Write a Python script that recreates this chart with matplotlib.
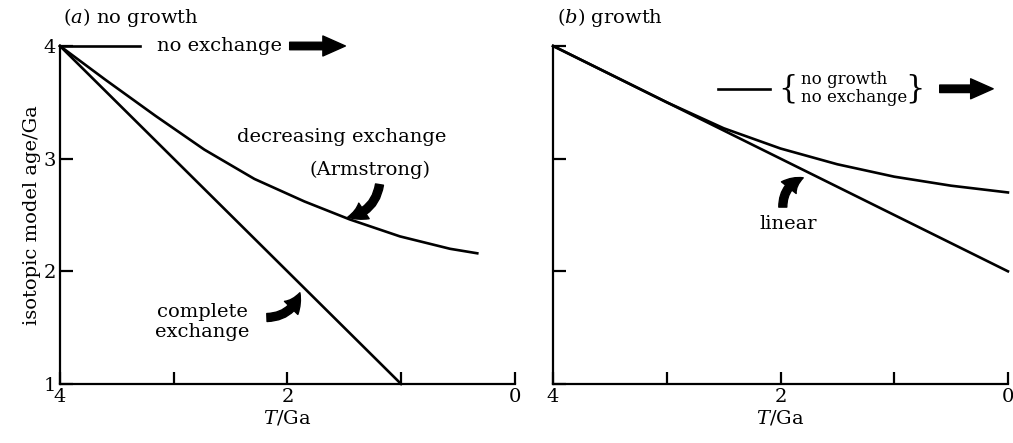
import numpy as np
import matplotlib
matplotlib.use('Agg')
import matplotlib.pyplot as plt

plt.rcParams['font.family'] = 'DejaVu Serif'
plt.rcParams['mathtext.fontset'] = 'dejavuserif'

# (a) no growth
complete_T = [4.0, 1.0]
complete_age = [4.0, 1.0]
armstrong_T = [4.0, 3.6, 3.16, 2.73, 2.29, 1.85, 1.45, 1.01, 0.57, 0.33]
armstrong_age = [4.0, 3.70, 3.38, 3.08, 2.82, 2.62, 2.46, 2.31, 2.20, 2.16]
noexch_T = [4.0, 3.3]
noexch_age = [4.0, 4.0]

# (b) growth
linear_T = [4.0, 0.0]
linear_age = [4.0, 2.0]
growth_T = [4.0, 3.5, 3.0, 2.5, 2.0, 1.5, 1.0, 0.5, 0.0]
growth_age = [4.0, 3.75, 3.50, 3.27, 3.09, 2.95, 2.84, 2.76, 2.70]
flat_T = [2.55, 2.09]
flat_age = [3.62, 3.62]

x_ticks = [4, 3, 2, 1, 0]
x_labels = ['4', '', '2', '', '0']
y_ticks = [1, 2, 3, 4]

LW = 1.9
FS = 14


def style_axes(ax, ylabels=True):
    ax.set_xlim(4, 0)
    ax.set_ylim(1, 4)
    for side in ('top', 'right'):
        ax.spines[side].set_visible(False)
    for side in ('left', 'bottom'):
        ax.spines[side].set_linewidth(1.6)
    ax.set_xticks(x_ticks)
    ax.set_xticklabels(x_labels, fontsize=FS)
    ax.set_yticks(y_ticks)
    if ylabels:
        ax.set_yticklabels([str(v) for v in y_ticks], fontsize=FS)
    else:
        ax.set_yticklabels([])
    ax.tick_params(direction='in', length=9, width=1.6, pad=3)
    ax.set_xlabel('$T$/Ga', fontsize=FS, labelpad=2)


def curved_arrow(ax, tail, head, rad):
    ax.annotate('', xy=head, xytext=tail,
                arrowprops=dict(arrowstyle='simple,head_length=0.7,head_width=0.75,tail_width=0.32',
                                connectionstyle='arc3,rad=%s' % rad,
                                color='black', shrinkA=0, shrinkB=0,
                                mutation_scale=18),
                annotation_clip=False)


def straight_arrow(ax, tail, head):
    ax.annotate('', xy=head, xytext=tail,
                arrowprops=dict(arrowstyle='simple,head_length=0.9,head_width=0.8,tail_width=0.3',
                                color='black', shrinkA=0, shrinkB=0,
                                mutation_scale=18),
                annotation_clip=False)


fig = plt.figure(figsize=(10.13, 4.43), dpi=100)
ax1 = fig.add_axes([0.0592, 0.1332, 0.449, 0.763])
ax2 = fig.add_axes([0.546, 0.1332, 0.449, 0.763])

# panel (a)
ax1.plot(complete_T, complete_age, color='black', lw=LW, clip_on=False)
ax1.plot(armstrong_T, armstrong_age, color='black', lw=LW, clip_on=False,
         solid_joinstyle='round')
ax1.plot(noexch_T, noexch_age, color='black', lw=LW, clip_on=False)
style_axes(ax1)
ax1.set_ylabel('isotopic model age/Ga', fontsize=FS, labelpad=2)
ax1.text(3.97, 4.255, '($a$) no growth', fontsize=FS, va='center', ha='left')
ax1.text(3.15, 4.0, 'no exchange', fontsize=FS, va='center', ha='left')
straight_arrow(ax1, (1.98, 4.0), (1.49, 4.0))
ax1.text(1.52, 3.19, 'decreasing exchange', fontsize=FS, ha='center', va='center')
ax1.text(1.27, 2.90, '(Armstrong)', fontsize=FS, ha='center', va='center')
curved_arrow(ax1, (1.19, 2.77), (1.47, 2.48), -0.35)
ax1.text(2.75, 1.55, 'complete\nexchange', fontsize=FS, ha='center', va='center',
         linespacing=1.1)
curved_arrow(ax1, (2.18, 1.59), (1.89, 1.81), 0.35)

# panel (b)
ax2.plot(linear_T, linear_age, color='black', lw=LW, clip_on=False)
ax2.plot(growth_T, growth_age, color='black', lw=LW, clip_on=False,
         solid_joinstyle='round')
ax2.plot(flat_T, flat_age, color='black', lw=LW, clip_on=False)
style_axes(ax2, ylabels=False)
ax2.text(3.97, 4.255, '($b$) growth', fontsize=FS, va='center', ha='left')
ax2.text(2.02, 3.62, '{', fontsize=22, ha='left', va='center')
ax2.text(0.90, 3.62, '}', fontsize=22, ha='left', va='center')
ax2.text(1.82, 3.70, 'no growth', fontsize=12, ha='left', va='center')
ax2.text(1.82, 3.54, 'no exchange', fontsize=12, ha='left', va='center')
straight_arrow(ax2, (0.60, 3.62), (0.13, 3.62))
ax2.text(1.93, 2.42, 'linear', fontsize=FS, ha='center', va='center')
curved_arrow(ax2, (1.98, 2.57), (1.80, 2.83), -0.35)

fig.savefig('out.png', dpi=100)
